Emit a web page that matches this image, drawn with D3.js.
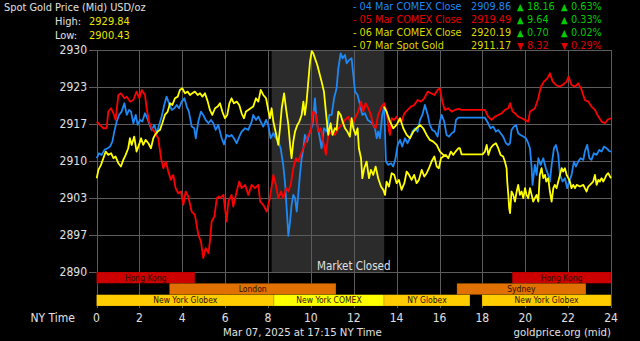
<!DOCTYPE html>
<html>
<head>
<meta charset="utf-8">
<script src="https://d3js.org/d3.v7.min.js"></script>
<style>
  body { margin: 0; background: #000; overflow: hidden; }
  svg text { font-family: "DejaVu Sans Condensed", "DejaVu Sans", sans-serif; }
</style>
</head>
<body>
<svg id="chart"></svg>
<script>
// ---- data ----
const hourTicks = d3.range(0, 25, 2);
const priceTicks = d3.range(7).map(i => 2890 + i * 40 / 6);

const highLow = ["2929.84", "2900.43"];

const legendLabels = ["- 04 Mar COMEX Close", "- 05 Mar COMEX Close", "- 06 Mar COMEX Close", "- 07 Mar Spot Gold"];
const legendPrices = ["2909.86", "2919.49", "2920.19", "2911.17"];
const legendChanges = [18.16, 9.64, 0.70, -8.32];
const legendPcts = [0.63, 0.33, 0.02, -0.29];

const closedStart = 8.17, closedEnd = 13.42;

const sessionNames = ["Hong Kong", "Hong Kong", "London", "Sydney", "New York Globex", "New York COMEX", "NY Globex", "New York Globex"];
const sessionStart = [0, 19.39, 3.40, 16.81, 0, 8.28, 13.41, 17.98];
const sessionEnd = [4.59, 24, 11.17, 22.83, 8.28, 13.41, 17.42, 24];
const sessionRow = [0, 0, 1, 1, 2, 2, 2, 2];

// [hour, price]
const blueSeries = [
  [0.01,2910.5],[0.12,2911.4],[0.24,2911.1],[0.37,2912.0],[0.52,2912.3],[0.63,2912.6],[0.74,2913.5],[0.83,2915.3],
  [0.94,2917.1],[1.05,2918.3],[1.17,2918.9],[1.30,2920.4],[1.41,2918.3],[1.52,2919.2],[1.61,2918.9],[1.72,2916.8],
  [1.83,2918.3],[1.92,2916.5],[2.03,2917.4],[2.14,2917.1],[2.26,2918.6],[2.34,2918.0],[2.45,2916.8],[2.57,2915.6],
  [2.70,2916.5],[2.81,2915.0],[2.92,2916.5],[3.04,2918.0],[3.16,2920.1],[3.27,2921.6],[3.38,2920.4],[3.51,2919.2],
  [3.63,2919.5],[3.74,2920.1],[3.85,2919.5],[3.97,2920.7],[4.10,2921.3],[4.21,2919.8],[4.31,2918.9],[4.44,2916.2],
  [4.56,2915.9],[4.63,2914.1],[4.75,2917.1],[4.87,2918.9],[4.98,2918.3],[5.09,2917.4],[5.22,2916.8],[5.34,2917.4],
  [5.45,2916.8],[5.56,2915.6],[5.68,2916.5],[5.76,2915.3],[5.84,2914.1],[5.95,2913.0],[6.07,2914.7],[6.20,2914.4],
  [6.30,2914.7],[6.41,2914.1],[6.54,2913.2],[6.66,2914.4],[6.77,2915.3],[6.93,2915.9],[7.08,2915.6],[7.24,2917.1],
  [7.31,2918.3],[7.44,2917.4],[7.55,2918.0],[7.66,2917.1],[7.78,2916.2],[7.91,2917.4],[8.01,2916.5],[8.12,2914.1],
  [8.25,2915.0],[8.37,2914.1],[8.48,2913.5],[8.59,2912.3],[8.71,2909.3],[8.79,2906.3],[8.87,2901.5],[8.95,2896.5],
  [9.03,2899.1],[9.10,2902.1],[9.18,2903.9],[9.26,2903.3],[9.34,2900.9],[9.41,2903.9],[9.49,2907.5],[9.57,2910.5],
  [9.65,2912.3],[9.72,2914.7],[9.83,2913.5],[9.96,2915.3],[10.08,2916.5],[10.19,2921.3],[10.27,2917.1],[10.39,2914.7],
  [10.50,2912.3],[10.61,2915.9],[10.74,2915.3],[10.86,2918.3],[10.97,2918.3],[11.08,2921.3],[11.20,2923.1],[11.28,2926.7],
  [11.39,2929.4],[11.48,2928.5],[11.59,2929.1],[11.67,2927.6],[11.79,2928.2],[11.90,2928.5],[11.98,2925.5],[12.06,2922.5],
  [12.18,2921.9],[12.29,2920.1],[12.40,2918.3],[12.52,2918.6],[12.65,2917.4],[12.76,2917.1],[12.86,2916.8],[12.99,2915.9],
  [13.07,2914.1],[13.14,2915.3],[13.22,2914.1],[13.33,2918.3],[13.42,2919.8],[13.50,2909.9],[13.61,2909.3],[13.74,2909.6],
  [13.84,2909.0],[13.95,2910.5],[14.05,2912.9],[14.16,2913.8],[14.26,2912.6],[14.39,2914.1],[14.51,2913.2],[14.62,2914.1],
  [14.73,2915.3],[14.86,2915.9],[14.98,2915.3],[15.09,2917.4],[15.20,2918.3],[15.32,2920.1],[15.45,2918.3],[15.55,2916.5],
  [15.66,2915.6],[15.79,2915.3],[15.91,2914.4],[16.02,2917.1],[16.10,2918.3],[16.22,2917.1],[16.33,2914.7],[16.44,2914.4],
  [16.57,2915.0],[16.69,2915.3],[16.77,2917.4],[16.88,2917.8],[18.12,2917.8],[18.27,2916.8],[18.38,2915.9],[18.51,2916.2],
  [18.63,2915.3],[18.74,2915.6],[18.85,2915.0],[18.97,2914.4],[19.10,2913.2],[19.21,2912.9],[19.29,2913.2],[19.36,2915.6],
  [19.47,2916.2],[19.57,2916.5],[19.67,2915.0],[19.78,2914.7],[19.91,2914.4],[20.03,2914.1],[20.14,2913.2],[20.22,2912.3],
  [20.30,2908.7],[20.34,2905.7],[20.45,2909.3],[20.53,2907.5],[20.61,2910.5],[20.72,2909.3],[20.84,2910.5],[20.96,2908.7],
  [21.07,2907.5],[21.15,2906.3],[21.23,2909.3],[21.34,2912.3],[21.43,2912.9],[21.54,2911.1],[21.62,2907.5],[21.74,2906.3],
  [21.85,2906.9],[21.96,2905.1],[22.05,2906.3],[22.16,2907.5],[22.27,2909.9],[22.36,2909.0],[22.47,2909.9],[22.58,2910.5],
  [22.71,2910.2],[22.78,2911.7],[22.89,2912.9],[22.99,2910.5],[23.09,2910.2],[23.20,2911.4],[23.33,2911.1],[23.45,2912.0],
  [23.56,2911.7],[23.67,2912.6],[23.79,2912.3],[23.92,2911.8],[24.00,2911.7]
];

const redSeries = [
  [0.01,2917.1],[0.16,2916.5],[0.32,2915.9],[0.47,2915.9],[0.55,2918.9],[0.68,2919.5],[0.79,2918.6],[0.89,2917.4],
  [1.02,2921.9],[1.14,2922.2],[1.30,2921.3],[1.41,2921.6],[1.56,2920.7],[1.72,2921.0],[1.87,2922.5],[2.00,2921.3],
  [2.11,2922.8],[2.26,2921.9],[2.34,2919.5],[2.45,2917.1],[2.57,2915.9],[2.70,2915.3],[2.88,2914.1],[3.01,2910.5],
  [3.12,2908.7],[3.23,2909.9],[3.35,2908.1],[3.47,2906.6],[3.58,2907.5],[3.69,2905.1],[3.82,2904.2],[3.94,2904.5],
  [4.05,2902.1],[4.16,2904.5],[4.28,2903.6],[4.44,2900.9],[4.59,2900.3],[4.75,2896.7],[4.87,2895.5],[4.98,2892.5],
  [5.09,2894.3],[5.22,2893.4],[5.29,2895.5],[5.37,2899.1],[5.50,2900.0],[5.61,2903.3],[5.71,2903.6],[5.76,2903.3],
  [5.92,2903.9],[6.07,2899.1],[6.15,2902.7],[6.30,2903.9],[6.38,2901.8],[6.54,2904.5],[6.66,2906.3],[6.77,2905.1],
  [6.93,2905.7],[7.08,2903.9],[7.24,2905.7],[7.39,2905.1],[7.55,2905.7],[7.63,2902.7],[7.78,2902.1],[7.94,2900.9],
  [8.09,2903.3],[8.25,2907.5],[8.37,2905.7],[8.48,2903.3],[8.61,2904.5],[8.71,2903.3],[8.84,2905.1],[8.95,2904.5],
  [9.06,2905.7],[9.18,2908.7],[9.30,2910.5],[9.41,2909.9],[9.52,2911.1],[9.65,2912.3],[9.77,2913.5],[9.88,2914.7],
  [9.99,2915.3],[10.11,2918.9],[10.24,2918.3],[10.35,2915.3],[10.46,2915.9],[10.58,2913.5],[10.70,2911.1],[10.81,2914.7],
  [10.97,2915.3],[11.12,2914.7],[11.28,2915.9],[11.43,2916.5],[11.59,2917.4],[11.75,2918.0],[11.90,2916.2],[12.06,2917.7],
  [12.21,2918.9],[12.34,2920.7],[12.45,2918.9],[12.55,2920.4],[12.68,2919.5],[12.80,2918.3],[12.91,2916.5],[13.02,2915.9],
  [13.14,2918.3],[13.30,2919.8],[13.42,2920.4],[13.53,2918.9],[13.64,2915.5],[13.69,2914.7],[13.77,2917.7],[13.89,2917.4],
  [14.00,2918.0],[14.11,2917.1],[14.23,2917.1],[14.36,2918.6],[14.51,2919.2],[14.67,2919.8],[14.82,2920.1],[14.98,2921.0],
  [15.13,2920.7],[15.29,2921.3],[15.45,2922.5],[15.60,2922.2],[15.76,2921.9],[15.91,2922.8],[16.02,2923.1],[16.13,2920.7],
  [16.25,2919.2],[16.41,2919.5],[16.57,2918.9],[16.72,2919.2],[16.88,2919.4],[17.03,2919.2],[18.12,2919.2],[18.27,2918.0],
  [18.43,2917.4],[18.59,2918.0],[18.74,2918.3],[18.90,2918.6],[19.05,2919.2],[19.21,2919.5],[19.29,2920.4],[19.41,2918.9],
  [19.52,2918.6],[19.67,2918.0],[19.83,2917.7],[19.99,2917.4],[20.14,2917.1],[20.22,2918.9],[20.34,2919.2],[20.45,2919.5],
  [20.61,2921.3],[20.72,2923.3],[20.87,2924.3],[21.03,2924.9],[21.15,2925.8],[21.28,2924.3],[21.43,2923.7],[21.59,2923.4],
  [21.74,2923.7],[21.93,2924.3],[22.02,2925.2],[22.16,2923.7],[22.32,2923.4],[22.47,2924.0],[22.63,2922.8],[22.78,2921.0],
  [22.94,2920.7],[23.09,2919.8],[23.25,2919.2],[23.41,2918.0],[23.56,2917.1],[23.72,2916.8],[23.83,2917.4],[24.00,2917.7]
];

const yellowSeries = [
  [0.01,2906.9],[0.09,2908.4],[0.21,2909.3],[0.32,2910.5],[0.43,2911.7],[0.55,2911.1],[0.68,2911.4],[0.79,2910.5],
  [0.89,2910.8],[1.02,2909.6],[1.14,2909.0],[1.25,2910.2],[1.36,2911.1],[1.48,2912.3],[1.56,2914.1],[1.64,2912.9],
  [1.76,2914.4],[1.87,2911.7],[1.98,2912.9],[2.08,2914.1],[2.18,2912.9],[2.29,2913.8],[2.42,2913.2],[2.54,2912.3],
  [2.65,2914.1],[2.73,2914.7],[2.85,2915.3],[2.96,2915.6],[3.07,2916.8],[3.19,2918.3],[3.32,2918.9],[3.43,2920.4],
  [3.54,2920.1],[3.66,2921.3],[3.79,2921.6],[3.89,2922.8],[4.00,2923.1],[4.13,2922.2],[4.25,2922.5],[4.36,2921.9],
  [4.47,2922.2],[4.59,2922.5],[4.72,2921.9],[4.83,2922.2],[4.94,2921.6],[5.06,2922.2],[5.19,2920.7],[5.29,2919.2],
  [5.40,2918.3],[5.53,2919.5],[5.65,2919.8],[5.76,2920.4],[5.87,2918.9],[5.99,2917.7],[6.10,2918.3],[6.20,2920.4],
  [6.30,2921.3],[6.41,2920.4],[6.54,2920.7],[6.66,2920.1],[6.77,2918.6],[6.88,2917.7],[6.97,2918.9],[7.08,2919.2],
  [7.19,2919.5],[7.31,2919.8],[7.44,2921.3],[7.55,2920.7],[7.66,2922.8],[7.78,2921.9],[7.91,2921.3],[8.01,2919.2],
  [8.09,2917.7],[8.17,2919.5],[8.25,2917.1],[8.37,2915.0],[8.48,2912.9],[8.56,2915.9],[8.64,2919.5],[8.75,2922.2],
  [8.84,2919.5],[8.95,2916.5],[9.03,2912.9],[9.10,2910.5],[9.18,2913.5],[9.26,2915.3],[9.37,2916.5],[9.46,2917.1],
  [9.57,2918.3],[9.65,2920.7],[9.72,2918.3],[9.80,2920.7],[9.88,2924.3],[9.96,2927.9],[10.04,2929.8],[10.11,2929.4],
  [10.19,2928.5],[10.30,2927.3],[10.42,2925.5],[10.50,2924.3],[10.61,2922.5],[10.70,2918.9],[10.81,2914.7],[10.92,2916.8],
  [11.01,2914.7],[11.12,2915.9],[11.20,2915.6],[11.28,2918.9],[11.39,2918.3],[11.48,2917.1],[11.59,2915.9],[11.70,2915.3],
  [11.82,2914.4],[11.90,2917.7],[11.98,2915.9],[12.09,2914.7],[12.18,2915.9],[12.24,2912.3],[12.34,2910.5],[12.40,2906.9],
  [12.49,2908.7],[12.60,2909.9],[12.71,2906.9],[12.80,2908.4],[12.91,2907.5],[13.02,2909.0],[13.14,2906.9],[13.27,2905.4],
  [13.38,2904.8],[13.46,2903.9],[13.53,2906.3],[13.64,2905.4],[13.77,2907.8],[13.89,2907.5],[14.00,2906.0],[14.11,2906.6],
  [14.23,2904.8],[14.36,2906.0],[14.47,2908.1],[14.58,2907.5],[14.70,2906.6],[14.82,2907.5],[14.93,2906.0],[15.04,2906.6],
  [15.17,2908.4],[15.29,2907.2],[15.40,2907.8],[15.51,2908.7],[15.63,2909.9],[15.76,2910.8],[15.87,2909.0],[15.97,2908.7],
  [16.07,2910.5],[16.18,2910.8],[16.29,2911.1],[16.41,2910.5],[16.53,2911.7],[16.64,2911.1],[16.75,2911.7],[16.88,2912.3],
  [16.95,2912.3],[17.03,2911.2],[18.01,2911.2],[18.12,2911.7],[18.20,2912.9],[18.28,2911.1],[18.38,2912.3],[18.51,2912.9],
  [18.63,2913.2],[18.74,2912.3],[18.85,2911.1],[18.97,2910.8],[19.05,2909.9],[19.13,2908.7],[19.16,2906.3],[19.21,2903.9],
  [19.25,2901.5],[19.29,2900.6],[19.36,2904.5],[19.44,2903.9],[19.52,2902.7],[19.60,2904.5],[19.67,2905.7],[19.75,2903.9],
  [19.83,2904.5],[19.91,2903.3],[19.99,2905.1],[20.06,2903.9],[20.14,2903.3],[20.22,2905.1],[20.30,2903.9],[20.37,2902.7],
  [20.45,2903.3],[20.53,2903.9],[20.61,2902.7],[20.68,2907.5],[20.76,2908.7],[20.84,2906.9],[20.92,2907.5],[20.98,2906.3],
  [21.07,2906.9],[21.15,2904.5],[21.23,2902.7],[21.31,2905.1],[21.38,2905.7],[21.46,2905.1],[21.54,2906.3],[21.62,2907.5],
  [21.70,2908.7],[21.77,2908.1],[21.85,2908.7],[21.93,2907.5],[22.01,2906.9],[22.08,2906.3],[22.16,2905.1],[22.24,2905.7],
  [22.32,2905.1],[22.40,2905.7],[22.55,2905.4],[22.71,2905.7],[22.78,2905.1],[22.86,2904.5],[22.94,2905.4],[23.02,2905.7],
  [23.17,2906.3],[23.25,2907.5],[23.33,2905.7],[23.41,2906.6],[23.48,2906.3],[23.56,2906.9],[23.64,2906.3],[23.72,2906.9],
  [23.79,2907.5],[23.87,2907.8],[24.00,2906.9]
];

// second yellow trace after the closed period
const yellowSeries2 = [
  [13.41,2919.8],[13.53,2918.9],[13.69,2917.1],[13.84,2915.9],[14.00,2916.5],[14.16,2917.7],[14.31,2915.9],[14.47,2914.7],
  [14.62,2914.1],[14.78,2915.3],[14.93,2915.9],[15.09,2916.5],[15.24,2915.9],[15.40,2914.7],[15.55,2913.8],[15.71,2913.5],
  [15.87,2912.9],[16.02,2911.7],[16.18,2911.1],[16.33,2910.8]
];

// ---- chart ----
const width = 640, height = 341;
const svg = d3.select("#chart").attr("width", width).attr("height", height);
svg.append("rect").attr("width", width).attr("height", height).attr("fill", "#000");

const x = d3.scaleLinear().domain([0, 24]).range([96.5, 611]);
const y = d3.scaleLinear().domain([2890, 2930]).range([272, 50]);
const row = d3.scaleBand().domain([0, 1, 2]).range([272, 306]);

const gridColor = "#5c5c5c";
const textColor = "#e0e0e0";

// market closed shading
svg.append("rect")
  .attr("x", x(closedStart)).attr("y", y(2930))
  .attr("width", x(closedEnd) - x(closedStart))
  .attr("height", y(2890) - y(2930))
  .attr("fill", "#2b2b2b");

// grid
svg.append("g").selectAll("line").data(hourTicks).join("line")
  .attr("x1", d => Math.round(x(d)) + 0.5).attr("x2", d => Math.round(x(d)) + 0.5)
  .attr("y1", y(2930)).attr("y2", 308)
  .attr("stroke", gridColor).attr("stroke-width", 1);

svg.append("g").selectAll("line").data(priceTicks).join("line")
  .attr("x1", 89).attr("x2", x(24))
  .attr("y1", d => Math.round(y(d)) + 0.5).attr("y2", d => Math.round(y(d)) + 0.5)
  .attr("stroke", gridColor).attr("stroke-width", 1);

svg.append("g").selectAll("text").data(priceTicks).join("text")
  .attr("x", 87).attr("y", d => y(d) + 4)
  .attr("text-anchor", "end").attr("fill", textColor).attr("font-size", 12)
  .text(d => d3.format(".0f")(d));

svg.append("text").attr("x", x(12)).attr("y", 270)
  .attr("text-anchor", "middle").attr("fill", textColor).attr("font-size", 11.5)
  .text("Market Closed");

// session bars
const sessionColor = name => name === "Hong Kong" ? "#cc0000"
  : (name === "London" || name === "Sydney") ? "#e07000"
  : name === "New York COMEX" ? "#ffff00" : "#ffcc00";

const sessions = sessionNames.map((n, i) => ({ name: n, start: sessionStart[i], end: sessionEnd[i], row: sessionRow[i] }));
const sg = svg.append("g").selectAll("g").data(sessions).join("g");
sg.append("rect")
  .attr("x", d => x(d.start)).attr("y", d => row(d.row))
  .attr("width", d => x(d.end) - x(d.start)).attr("height", row.bandwidth())
  .attr("fill", d => sessionColor(d.name))
  .attr("stroke", "rgba(0,0,0,0.25)").attr("stroke-width", 0.6);
sg.append("text")
  .attr("x", d => (x(d.start) + x(d.end)) / 2).attr("y", d => row(d.row) + row.bandwidth() / 2 + 3)
  .attr("text-anchor", "middle").attr("font-size", 8.5).attr("fill", "#2a1000")
  .text(d => d.name);

// x axis labels
svg.append("g").selectAll("text").data(hourTicks).join("text")
  .attr("x", d => x(d)).attr("y", 322)
  .attr("text-anchor", "middle").attr("fill", textColor).attr("font-size", 12)
  .text(d => d);
svg.append("text").attr("x", 75).attr("y", 322).attr("text-anchor", "end")
  .attr("fill", textColor).attr("font-size", 12).text("NY Time");

// lines
const line = d3.line().x(d => x(d[0])).y(d => y(d[1]));
const plotLine = (data, color) => svg.append("path").datum(data)
  .attr("d", line).attr("fill", "none").attr("stroke", color)
  .attr("stroke-width", 1.8).attr("stroke-linejoin", "round");
plotLine(blueSeries, "#1e88f5");
plotLine(redSeries, "#ff0000");
plotLine(yellowSeries2, "#ffff00");
plotLine(yellowSeries, "#ffff00");

// header
svg.append("text").attr("x", 4).attr("y", 11).attr("fill", textColor).attr("font-size", 10.9)
  .text("Spot Gold Price (Mid) USD/oz");
["High:", "Low:"].forEach((t, i) => {
  svg.append("text").attr("x", 55).attr("y", 25 + i * 14).attr("fill", textColor).attr("font-size", 11).text(t);
  svg.append("text").attr("x", 89).attr("y", 25 + i * 14).attr("fill", "#e6e600").attr("font-size", 11).text(highLow[i]);
});

// legend
const legendColors = ["#1e88f5", "#e80000", "#dada00", "#dada00"];
const up = "#00cc00", down = "#e00000";
legendLabels.forEach((t, i) => {
  const ly = 9.5 + i * 13;
  const c = legendChanges[i] >= 0 ? up : down;
  const arrow = legendChanges[i] >= 0 ? "▲" : "▼";
  svg.append("text").attr("x", 353).attr("y", ly).attr("fill", legendColors[i]).attr("font-size", 10.8).text(t);
  svg.append("text").attr("x", 471).attr("y", ly).attr("fill", legendColors[i]).attr("font-size", 10.8).text(legendPrices[i]);
  svg.append("text").attr("x", 517).attr("y", ly).attr("fill", c).attr("font-size", 9.5).text(arrow);
  svg.append("text").attr("x", 527).attr("y", ly).attr("fill", c).attr("font-size", 10.8).text(Math.abs(legendChanges[i]).toFixed(2));
  svg.append("text").attr("x", 561).attr("y", ly).attr("fill", c).attr("font-size", 9.5).text(arrow);
  svg.append("text").attr("x", 571).attr("y", ly).attr("fill", c).attr("font-size", 10.8).text(Math.abs(legendPcts[i]).toFixed(2) + "%");
});

// footer
svg.append("text").attr("x", 223).attr("y", 336).attr("fill", textColor).attr("font-size", 11.3)
  .text("Mar 07, 2025 at 17:15 NY Time");
svg.append("text").attr("x", 611).attr("y", 336).attr("text-anchor", "end").attr("fill", textColor).attr("font-size", 11.3)
  .text("goldprice.org (mid)");
</script>
</body>
</html>
